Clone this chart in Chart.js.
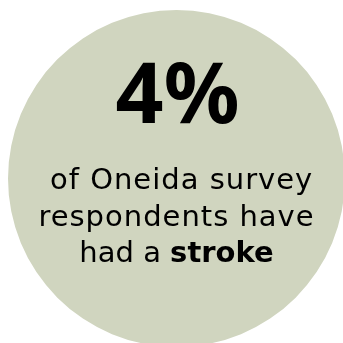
<!DOCTYPE html>
<html>
<head>
<meta charset="utf-8">
<script src="https://cdn.jsdelivr.net/npm/chart.js@4"></script>
<style>
    html, body { margin: 0; padding: 0; background: #ffffff; overflow: hidden; width: 343px; height: 343px; }
    #stat { position: absolute; left: 8px; top: 10px; }
</style>
</head>
<body>
<canvas id="stat" width="337" height="337"></canvas>
<script>
// datos
const labels = ["Oneida survey respondents"];
const circleShare = [100];
const statValue = [4];
const textLines = [" of Oneida survey", "respondents have", "had a "];
const boldWord = ["stroke"];

const FONT_BIG = '"Noto Sans", "Open Sans", sans-serif';
const FONT = '"DejaVu Sans", sans-serif';
const SIZE = 29;

const statText = {
    id: "statText",
    afterDraw(chart) {
        const ctx = chart.ctx;
        const arc = chart.getDatasetMeta(0).data[0];
        const cx = arc.x;
        const top = arc.y - arc.outerRadius;
        ctx.save();
        ctx.fillStyle = "#000000";
        ctx.textBaseline = "alphabetic";
        ctx.textAlign = "center";

        // numero grande
        ctx.font = "bold 84px " + FONT_BIG;
        ctx.fillText(statValue[0] + "%", cx + 1, top + 113);

        ctx.letterSpacing = "1px";
        ctx.font = SIZE + "px " + FONT;
        ctx.fillText(textLines[0], cx, top + 179);
        ctx.fillText(textLines[1], cx, top + 216);

        // ultima linea con palabra en negrita
        ctx.letterSpacing = "0px";
        ctx.textAlign = "left";
        ctx.font = SIZE + "px " + FONT;
        const w1 = ctx.measureText(textLines[2]).width;
        ctx.font = "bold " + SIZE + "px " + FONT;
        const w2 = ctx.measureText(boldWord[0]).width;
        let x = cx - (w1 + w2) / 2;
        ctx.font = SIZE + "px " + FONT;
        ctx.fillText(textLines[2], x, top + 252);
        ctx.font = "bold " + SIZE + "px " + FONT;
        ctx.fillText(boldWord[0], x + w1, top + 252);
        ctx.restore();
    },
};

function dibujar() {
    new Chart(document.getElementById("stat").getContext("2d"), {
        type: "pie",
        data: {
            labels: labels,
            datasets: [
                {
                    data: circleShare,
                    backgroundColor: ["#d0d5bf"],
                    borderWidth: 0,
                },
            ],
        },
        options: {
            responsive: false,
            animation: false,
            layout: { padding: 0 },
            plugins: {
                legend: { display: false },
                tooltip: { enabled: false },
            },
        },
        plugins: [statText],
    });
}

Promise.all([
    document.fonts.load('bold 84px "Noto Sans"'),
    document.fonts.load('29px "DejaVu Sans"'),
    document.fonts.load('bold 29px "DejaVu Sans"'),
])
    .catch(() => {})
    .then(dibujar);
</script>
</body>
</html>
